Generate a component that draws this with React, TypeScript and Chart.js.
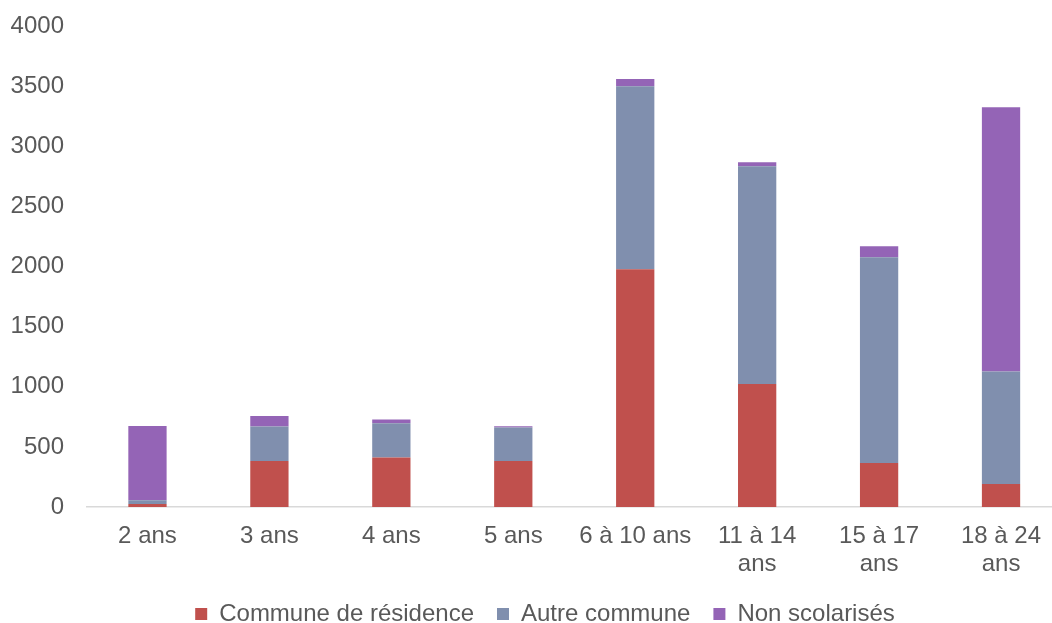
import React, { useEffect, useRef } from "react";
import { Chart, registerables } from "chart.js";

Chart.register(...registerables);

const categories: (string | string[])[] = [
  "2 ans",
  "3 ans",
  "4 ans",
  "5 ans",
  "6 à 10 ans",
  ["11 à 14", "ans"],
  ["15 à 17", "ans"],
  ["18 à 24", "ans"],
];

const communeResidence = [25, 383, 411, 383, 1977, 1023, 366, 191];
const autreCommune = [31, 286, 285, 278, 1522, 1810, 1710, 935];
const nonScolarises = [618, 88, 31, 11, 61, 33, 92, 2198];

const seriesNames = ["Commune de résidence", "Autre commune", "Non scolarisés"];
const seriesColors = ["#C0504D", "#808FAE", "#9464B6"];

const yMin = 0;
const yMax = 4000;
const yStep = 500;

const FONT = "'Liberation Sans', Arial, sans-serif";
const TEXT = "#595959";

const legendShift = {
  id: "legendShift",
  afterLayout(chart: any) {
    const lg = chart.legend;
    if (lg) {
      lg.left += 14;
      lg.right += 14;
    }
  },
};

export default function App() {
  const ref = useRef<HTMLCanvasElement | null>(null);

  useEffect(() => {
    document.body.style.margin = "0";
    const canvas = ref.current;
    if (!canvas) return;
    const values = [communeResidence, autreCommune, nonScolarises];
    const chart = new Chart(canvas, {
      type: "bar",
      data: {
        labels: categories,
        datasets: values.map((v, i) => ({
          label: seriesNames[i],
          data: v,
          backgroundColor: seriesColors[i],
          borderWidth: 0,
          categoryPercentage: 0.314,
          barPercentage: 1,
        })),
      },
      plugins: [legendShift],
      options: {
        responsive: false,
        animation: false,
        layout: { padding: { top: 26, left: 0, right: 0, bottom: 0 } },
        plugins: {
          tooltip: { enabled: false },
          legend: {
            position: "bottom",
            labels: {
              boxWidth: 12,
              boxHeight: 12,
              padding: 23,
              color: TEXT,
              font: { family: FONT, size: 24 },
            },
          },
        },
        scales: {
          x: {
            stacked: true,
            grid: { display: false, drawTicks: false },
            border: { display: true, color: "#D9D9D9", width: 1.5 },
            afterFit: (scale: any) => {
              scale.height = 72;
            },
            ticks: {
              color: TEXT,
              padding: 15.3,
              maxRotation: 0,
              autoSkip: false,
              font: { family: FONT, size: 24, lineHeight: "28px" },
            },
          },
          y: {
            stacked: true,
            min: yMin,
            max: yMax,
            grid: { display: false, drawTicks: false },
            border: { display: false },
            afterFit: (scale: any) => {
              scale.width = 86.5;
              scale.paddingTop = 0;
              scale.paddingBottom = 0;
            },
            ticks: {
              stepSize: yStep,
              color: TEXT,
              padding: 22.5,
              font: { family: FONT, size: 24 },
              callback: (v: any) => String(v),
            },
          },
        },
      },
    });
    return () => chart.destroy();
  }, []);

  return (
    <div
      style={{
        position: "fixed",
        left: 0,
        top: 0,
        width: 1052,
        height: 623,
        overflow: "hidden",
        background: "#fff",
      }}
    >
      <canvas ref={ref} width={1062} height={636} style={{ display: "block" }} />
    </div>
  );
}
